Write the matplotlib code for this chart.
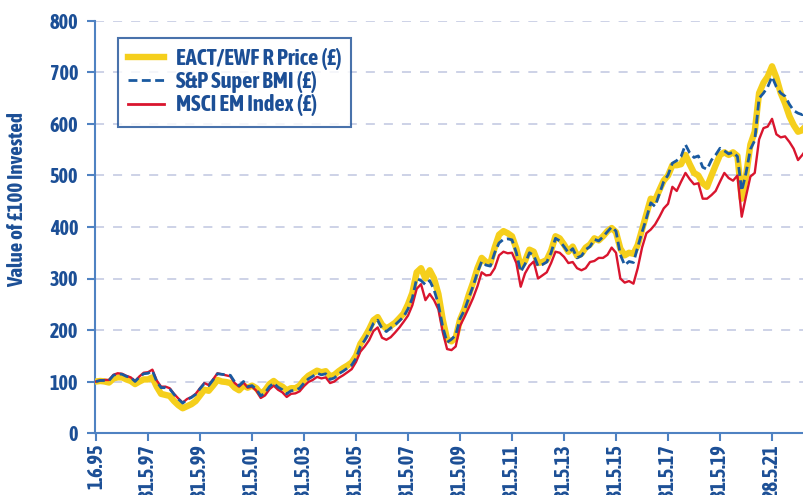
import numpy as np
import pandas as pd
import matplotlib
matplotlib.use('Agg')
import matplotlib.pyplot as plt
import matplotlib.dates as mdates
import matplotlib.patheffects as pe
from matplotlib import font_manager
from matplotlib.lines import Line2D

# bi-monthly observations from 1 June 1995
dates = pd.date_range('1995-06-01', periods=165, freq='2MS')

sp_super_bmi = [
    100, 102, 102, 102, 112, 115, 114, 110, 108, 100, 109, 115, 116, 121, 100, 88, 88, 86, 75, 66,
    58, 65, 69, 75, 86, 96, 92, 103, 115, 114, 113, 112, 99, 92, 100, 90, 92, 85, 72, 78,
    90, 97, 89, 84, 76, 82, 83, 87, 97, 105, 110, 116, 113, 115, 104, 107, 115, 120, 126, 132,
    145, 168, 180, 195, 213, 219, 203, 197, 204, 210, 218, 226, 241, 262, 300, 296, 288, 296, 278, 250,
    206, 176, 182, 190, 222, 238, 262, 285, 312, 333, 326, 324, 350, 369, 376, 377, 375, 350, 313, 328,
    350, 345, 324, 327, 332, 350, 378, 373, 362, 350, 358, 340, 344, 356, 362, 376, 373, 381, 391, 400,
    392, 346, 326, 333, 331, 361, 390, 417, 447, 440, 465, 488, 501, 524, 529, 537, 560, 544, 535, 538,
    516, 512, 530, 540, 553, 548, 542, 545, 537, 470, 505, 551, 568, 650, 660, 672, 692, 672, 660, 654,
    638, 626, 621, 618, 634,
]

eact_price = [
    100, 101, 100, 98, 106, 108, 108, 104, 101, 95, 100, 104, 104, 108, 90, 76, 74, 72, 62, 54,
    48, 52, 56, 62, 73, 84, 82, 92, 103, 100, 99, 97, 88, 83, 92, 88, 92, 87, 76, 83,
    95, 101, 94, 90, 83, 87, 87, 92, 103, 111, 116, 121, 118, 120, 110, 113, 120, 126, 131, 137,
    150, 173, 186, 201, 219, 225, 210, 203, 208, 214, 223, 232, 250, 272, 312, 320, 300, 316, 300, 270,
    220, 182, 178, 185, 220, 240, 268, 292, 320, 340, 332, 330, 360, 385, 392, 388, 382, 358, 322, 334,
    356, 352, 330, 332, 336, 354, 382, 378, 366, 352, 362, 344, 348, 360, 366, 378, 374, 382, 392, 398,
    390, 358, 345, 350, 348, 365, 395, 425, 455, 452, 472, 490, 500, 520, 520, 522, 540, 522, 505, 500,
    485, 478, 500, 520, 540, 545, 540, 545, 538, 455, 500, 560, 585, 660, 680, 692, 712, 690, 660, 640,
    615, 598, 585, 588, 600,
]

msci_em = [
    100, 102, 103, 103, 113, 116, 115, 111, 108, 101, 110, 117, 118, 123, 102, 90, 90, 87, 76, 67,
    59, 66, 70, 76, 87, 97, 93, 104, 116, 114, 112, 110, 97, 90, 98, 88, 90, 82, 68, 73,
    85, 92, 84, 79, 70, 76, 77, 81, 91, 99, 103, 109, 106, 108, 97, 100, 107, 112, 118, 124,
    138, 158, 168, 180, 198, 205, 185, 181, 186, 195, 205, 216, 228, 248, 280, 289, 258, 270, 258, 240,
    196, 163, 161, 168, 208, 225, 243, 262, 285, 312, 306, 307, 320, 345, 352, 349, 350, 330, 284, 310,
    325, 333, 300, 306, 312, 330, 352, 350, 342, 330, 332, 320, 316, 320, 332, 334, 340, 340, 346, 360,
    350, 300, 292, 295, 290, 320, 360, 388, 395, 405, 420, 436, 445, 478, 470, 488, 505, 493, 483, 485,
    455, 455, 462, 470, 488, 505, 495, 490, 500, 420, 460, 498, 505, 570, 592, 595, 610, 580, 574, 576,
    565, 552, 530, 540, 552,
]

tick_dates = pd.to_datetime([
    '1995-06-01', '1997-05-31', '1999-05-31', '2001-05-31', '2003-05-31', '2005-05-31', '2007-05-31',
    '2009-05-31', '2011-05-31', '2013-05-31', '2015-05-31', '2017-05-31', '2019-05-31', '2021-05-28',
])
tick_labels = ['1.6.95', '31.5.97', '31.5.99', '31.5.01', '31.5.03', '31.5.05', '31.5.07',
               '31.5.09', '31.5.11', '31.5.13', '31.5.15', '31.5.17', '31.5.19', '28.5.21']

series_names = ['EACT/EWF R Price (£)', 'S&P Super BMI (£)', 'MSCI EM Index (£)']

text_col = '#1c4f96'
axis_col = '#4f82c2'
yellow = '#f5cf1c'
blue = '#1a5aa0'
red = '#d9152e'


def weight_num(w):
    if isinstance(w, int):
        return w
    return {'bold': 700, 'heavy': 800, 'black': 900, 'semibold': 600, 'demibold': 600}.get(str(w), 400)


# the original uses a bold condensed grotesque; find a narrow face, fake the weight if needed
fonts = font_manager.fontManager.ttflist
narrow = [f for f in fonts if 'Narrow' in f.name or 'Condensed' in f.name]
narrow_bold = [f for f in narrow if weight_num(f.weight) >= 600]
fake_bold = []
if narrow_bold:
    family = [narrow_bold[0].name, 'DejaVu Sans']
    scale = 1.12
elif narrow:
    family = [narrow[0].name, 'DejaVu Sans']
    scale = 1.0
    fake_bold = [pe.withStroke(linewidth=0.9, foreground=text_col)]
else:
    family = ['Roboto', 'DejaVu Sans']
    scale = 0.85
plt.rcParams['font.family'] = family
plt.rcParams['font.weight'] = 'bold'

fig = plt.figure(figsize=(8.04, 4.95), dpi=100)
ax = fig.add_axes([95 / 804, 1 - 433 / 495, 1 - 95 / 804, (433 - 21) / 495])

ax.plot(dates, eact_price, color=yellow, lw=4.6, solid_capstyle='round', zorder=3)
ax.plot(dates, msci_em, color=red, lw=1.7, zorder=4)
ax.plot(dates, sp_super_bmi, color=blue, lw=2.0, dashes=(3.2, 1.6), zorder=5)

ax.set_ylim(0, 800)
ax.set_yticks(np.arange(0, 801, 100))
start = mdates.date2num(pd.Timestamp('1995-06-01'))
px_day = 26 / 365.25
ax.set_xlim(start - 1 / px_day, start + 708 / px_day)
ax.set_xticks(tick_dates)
ax.set_xticklabels(tick_labels, rotation=90, va='top', ha='center')

for gy in range(100, 801, 100):
    ax.axhline(gy, color='#c9cfe5', lw=1.3, dashes=(5, 5), zorder=1)

for side in ['top', 'right']:
    ax.spines[side].set_visible(False)
for side in ['left', 'bottom']:
    ax.spines[side].set_color(axis_col)
    ax.spines[side].set_linewidth(1.5)
ax.tick_params(axis='both', colors=axis_col, width=1.5, length=6, labelsize=13 * scale,
               labelcolor=text_col)
ax.tick_params(axis='x', pad=2)
ax.tick_params(axis='y', pad=6)

ylab = fig.text(0.021, 0.596, 'Value of £100 Invested', rotation=90, ha='center', va='center',
                fontsize=13.5 * scale, color=text_col, fontweight='bold')

handles = [
    Line2D([], [], color=yellow, lw=4.6),
    Line2D([], [], color=blue, lw=2.0, dashes=(3.2, 1.6)),
    Line2D([], [], color=red, lw=2.0),
]
leg = ax.legend(handles, series_names, loc='upper left', bbox_to_anchor=(23 / 709, (433 - 38) / 412),
                borderaxespad=0, fancybox=False, frameon=True, fontsize=14.5 * scale,
                handlelength=1.6, handletextpad=0.5, labelspacing=0.05, borderpad=0.45)
leg.get_frame().set_edgecolor(text_col)
leg.get_frame().set_linewidth(1.5)
for t in leg.get_texts():
    t.set_color(text_col)

if fake_bold:
    texts = [ylab] + list(leg.get_texts()) + ax.get_xticklabels() + ax.get_yticklabels()
    for t in texts:
        t.set_path_effects(fake_bold)

fig.savefig('out.png', dpi=100)
